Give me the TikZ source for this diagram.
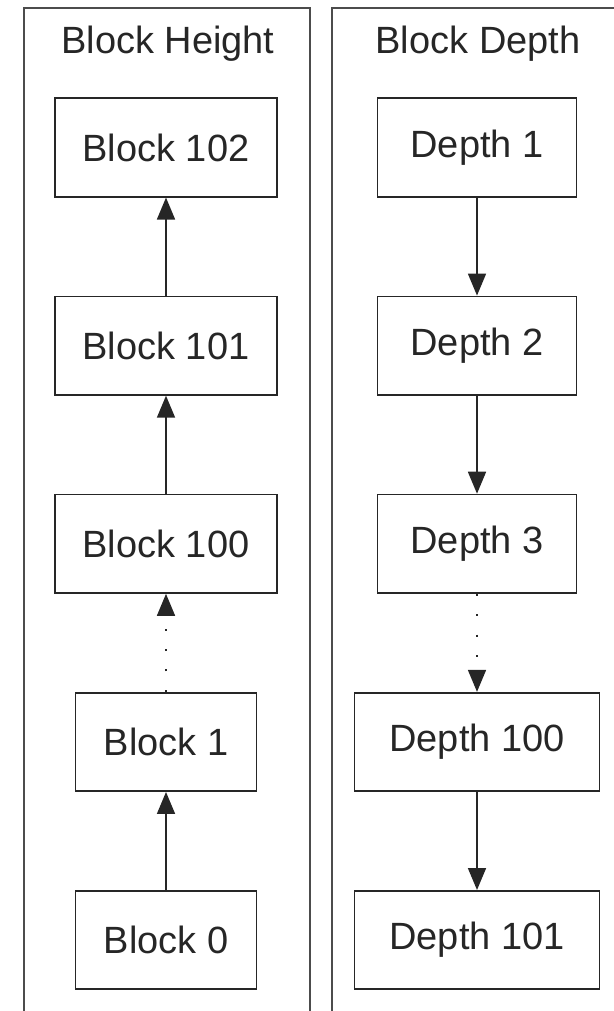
\documentclass[tikz,border=0pt]{standalone}
\usepackage{fontspec}
\setmainfont{Liberation Sans}
\usepackage{tikz}
\usetikzlibrary{positioning,
				arrows.meta}

\begin{document}
\begin{tikzpicture}[x=0.025cm, y=-0.025cm,
		panel/.style={draw=black!70, line width=1.5pt},
		blk/.style={draw=black!85, line width=1.2pt, text=black!85, minimum height=2.46cm,
			font=\fontsize{27}{32}\selectfont},
		wide/.style={blk, minimum width=5.55cm},
		narrow/.style={blk, minimum width=4.52cm},
		arr/.style={-{Triangle[length=0.55cm,width=0.45cm]}, line width=1.2pt, draw=black!85},
		dots/.style={arr, dash pattern=on 1.5pt off 13pt},
		node distance=2.45cm]
			\useasboundingbox (0,0) rectangle (613,1011);
			% two frames, cut off at the right and the bottom
			\draw[panel] (24,8) rectangle (310,1012);
			\draw[panel] (332,8) rectangle (660,1012);
			\node[font=\fontsize{27}{32}\selectfont, text=black!85] (hgt) at (168,44) {Block Height};
			\node[font=\fontsize{27}{32}\selectfont, text=black!85] (dep) at (478,44) {Block Depth};
			% height column
			\node[wide] (b102) at (166,147.5) {Block 102};
			\node[wide, below=of b102] (b101) {Block 101};
			\node[wide, below=of b101] (b100) {Block 100};
			\node[narrow, below=of b100] (b1) {Block 1};
			\node[narrow, below=of b1] (b0) {Block 0};
			\draw[arr] (b0) -- (b1);
			\draw[dots] (b1) -- (b100);
			\draw[arr] (b100) -- (b101);
			\draw[arr] (b101) -- (b102);
			% depth column
			\node[blk, minimum width=4.97cm] (d1) at (477,147.5) {Depth 1};
			\node[blk, minimum width=4.97cm, below=of d1] (d2) {Depth 2};
			\node[blk, minimum width=4.97cm, below=of d2] (d3) {Depth 3};
			\node[blk, minimum width=6.12cm, below=of d3] (d100) {Depth 100};
			\node[blk, minimum width=6.12cm, below=of d100] (d101) {Depth 101};
			\draw[arr] (d1) -- (d2);
			\draw[arr] (d2) -- (d3);
			\draw[dots] (d3) -- (d100);
			\draw[arr] (d100) -- (d101);
		\end{tikzpicture}
\end{document}
